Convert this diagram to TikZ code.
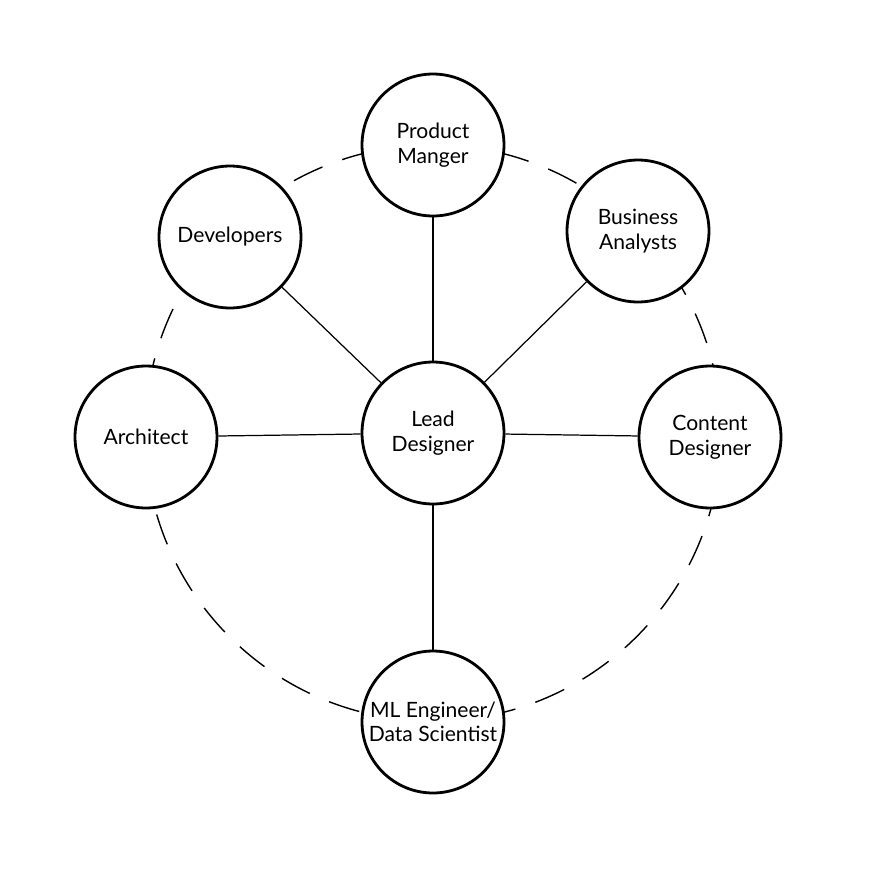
\documentclass[tikz,border=0pt]{standalone}
\usepackage{fontspec}
\setmainfont{Lato}
\begin{document}
\begin{tikzpicture}[x=0.02cm,y=-0.02cm,
    role/.style={circle,draw,line width=1.6pt,fill=white,minimum size=2.84cm,
                 align=center,font=\fontsize{12}{14}\selectfont,inner sep=0pt},
    link/.style={line width=0.7pt}]
                  \useasboundingbox (0,0) rectangle (876,876);
                  \def\cx{433} \def\cy{433} \def\R{288}

                  % outer ring
                  \draw[line width=0.8pt,dash pattern=on 18pt off 12pt] (\cx,\cy) circle (\R);

                  \node[role] (lead) at (\cx,\cy) {Lead\\Designer};
                  \node[role] (pm) at (433,145) {Product\\Manger};
                  \node[role] (dev) at (230,237) {Developers};
                  \node[role] (ba) at (638,231) {Business\\Analysts};
                  \node[role] (arch) at (146,437) {Architect};
                  \node[role] (cont) at (710,437) {Content\\Designer};
                  \node[role] (ml) at (433,722) {ML Engineer/\\Data Scientist};

                  \foreach \n in {pm,dev,ba,arch,cont,ml}
                      \draw[link] (lead) -- (\n);
              \end{tikzpicture}
\end{document}
